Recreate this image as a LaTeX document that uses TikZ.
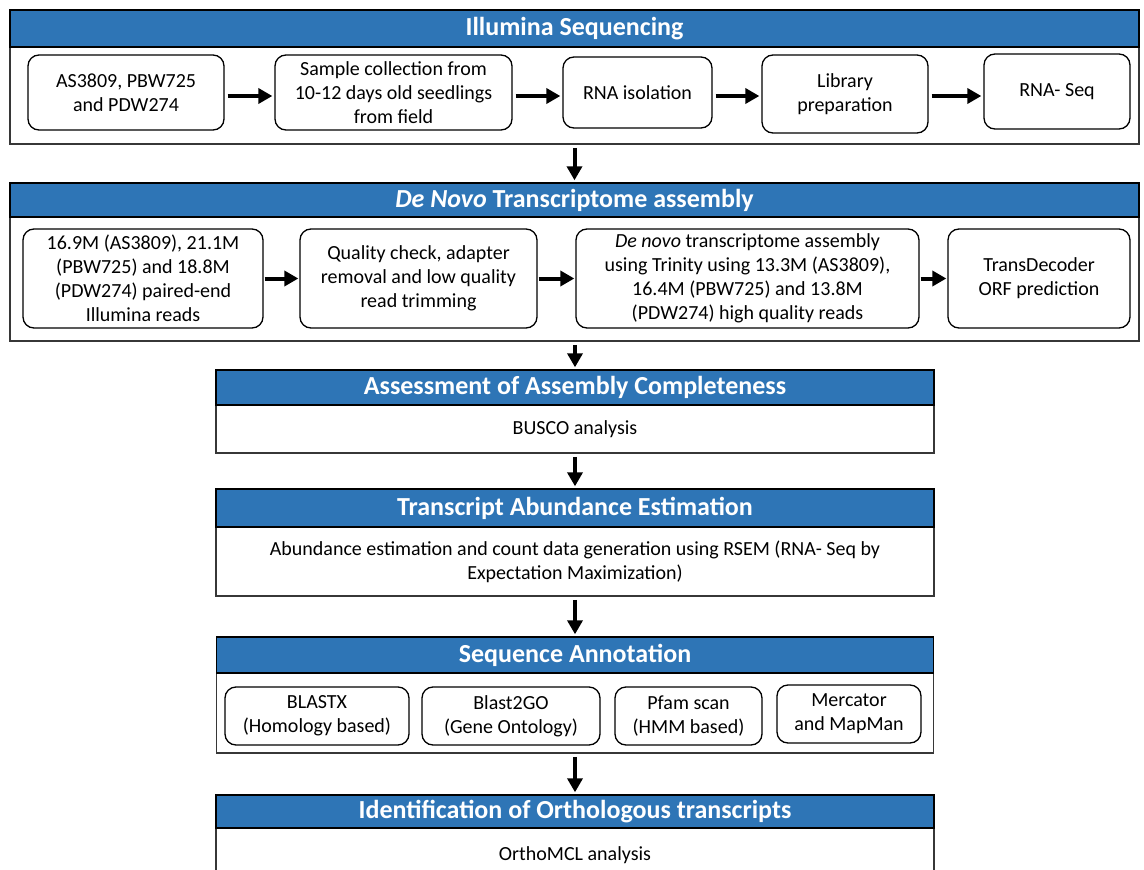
\documentclass[tikz,border=0pt]{standalone}
\usepackage{fontspec}
\setmainfont{Carlito}
\usetikzlibrary{arrows.meta}
\definecolor{hdrblue}{RGB}{46,117,182}
\definecolor{frame}{RGB}{55,55,55}
\tikzset{
  hdr/.style={draw=black, line width=1.4pt, fill=hdrblue, text=white, inner sep=0pt,
    font=\fontsize{26}{30}\selectfont\bfseries, anchor=center},
  body/.style={draw=frame, line width=1.6pt, fill=white, inner sep=0pt,
    font=\fontsize{20}{24}\selectfont, align=center},
  stepbox/.style={draw=black, line width=1.3pt, rounded corners=11pt, inner sep=0pt,
    font=\fontsize{20}{24}\selectfont, align=center},
  arr/.style={line width=4pt, -{Triangle[length=14pt,width=15pt]}, shorten <=3pt, shorten >=2pt},
}
\begin{document}
\begin{tikzpicture}[x=1pt,y=-1pt]
\useasboundingbox (0,0) rectangle (1144,870);
\clip (0,0) rectangle (1144,870);

% Section 1
\node[body, minimum width=1129pt, minimum height=97pt] (b1) at (574.5,95.5) {};
\node[hdr, minimum width=1129pt, minimum height=37pt] (h1) at (574.5,28.5) {Illumina Sequencing};
\node[stepbox, minimum width=196pt, minimum height=75pt] (a1) at (126,92.5) {AS3809, PBW725\\and PDW274};
\node[stepbox, minimum width=237pt, minimum height=75pt] (a2) at (393.5,92.5) {Sample collection from\\10-12 days old seedlings\\from field};
\node[stepbox, minimum width=149pt, minimum height=71pt] (a3) at (637.5,92.5) {RNA isolation};
\node[stepbox, minimum width=166pt, minimum height=78pt] (a4) at (845,94) {Library\\preparation};
\node[stepbox, minimum width=146pt, minimum height=75pt] (a5) at (1057,91.5) {RNA- Seq};
\coordinate (r1) at (0,96);
\draw[arr] (a1.east |- r1) -- (a2.west |- r1);
\draw[arr] (a2.east |- r1) -- (a3.west |- r1);
\draw[arr] (a3.east |- r1) -- (a4.west |- r1);
\draw[arr] (a4.east |- r1) -- (a5.west |- r1);

% Section 2
\node[body, minimum width=1129pt, minimum height=124pt] (b2) at (574.5,279) {};
\node[hdr, minimum width=1129pt, minimum height=34pt] (h2) at (574.5,200) {\textit{De Novo} Transcriptome assembly};
\node[stepbox, minimum width=240pt, minimum height=99pt] (c1) at (143,278.5) {16.9M (AS3809), 21.1M\\(PBW725) and 18.8M\\(PDW274) paired-end\\Illumina reads};
\node[stepbox, minimum width=237pt, minimum height=99pt] (c2) at (418.5,278.5) {Quality check, adapter\\removal and low quality\\read trimming};
\node[stepbox, minimum width=343pt, minimum height=99pt] (c3) at (747.5,278.5) {\textit{De novo} transcriptome assembly\\using Trinity using 13.3M (AS3809),\\16.4M (PBW725) and 13.8M\\(PDW274) high quality reads};
\node[stepbox, minimum width=182pt, minimum height=99pt] (c4) at (1039,278.5) {TransDecoder\\ORF prediction};
\draw[arr, shorten <=1pt, shorten >=1pt] (c1) -- (c2);
\draw[arr, shorten <=1pt, shorten >=1pt] (c2) -- (c3);
\draw[arr, shorten <=1pt, shorten >=1pt] (c3) -- (c4);
\draw[arr] (b1) -- (h2);

% Section 3
\node[body, minimum width=718pt, minimum height=48pt] (b3) at (575,429) {BUSCO analysis};
\node[hdr, minimum width=718pt, minimum height=35pt] (h3) at (575,387.5) {Assessment of Assembly Completeness};
\draw[arr] (b2.south -| h3.north) -- (h3);

% Section 4
\node[body, minimum width=718pt, minimum height=69pt] (b4) at (575,561.5) {Abundance estimation and count data generation using RSEM (RNA- Seq by\\Expectation Maximization)};
\node[hdr, minimum width=718pt, minimum height=38pt] (h4) at (575,508) {Transcript Abundance Estimation};
\draw[arr] (b3) -- (h4);

% Section 5
\node[body, minimum width=717pt, minimum height=80pt] (b5) at (575,713) {};
\node[hdr, minimum width=717pt, minimum height=36pt] (h5) at (575,655) {Sequence Annotation};
\node[stepbox, minimum width=184pt, minimum height=58pt] (e1) at (317,716) {BLASTX\\(Homology based)};
\node[stepbox, minimum width=178pt, minimum height=58pt] (e2) at (511,716) {Blast2GO\\(Gene Ontology)};
\node[stepbox, minimum width=147pt, minimum height=58pt] (e3) at (688.5,716) {Pfam scan\\(HMM based)};
\node[stepbox, minimum width=144pt, minimum height=58pt] (e4) at (849,714) {Mercator\\and MapMan};
\draw[arr] (b4) -- (h5);

% Section 6
\node[body, minimum width=718pt, minimum height=56pt] (b6) at (575,856) {};
\node at (575,855) [font=\fontsize{20}{24}\selectfont] (t6) {OrthoMCL analysis};
\node[hdr, minimum width=718pt, minimum height=33pt] (h6) at (575,811.5) {Identification of Orthologous transcripts};
\draw[arr] (b5) -- (h6);
\end{tikzpicture}
\end{document}
